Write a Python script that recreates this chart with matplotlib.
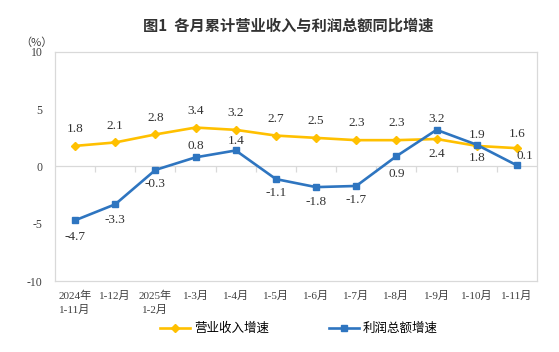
import numpy as np
import matplotlib.pyplot as plt

plt.rcParams['font.family'] = ['Liberation Serif', 'Noto Sans CJK SC']

# data
months = ['2024年\n1-11月', '1-12月', '2025年\n1-2月', '1-3月', '1-4月', '1-5月',
          '1-6月', '1-7月', '1-8月', '1-9月', '1-10月', '1-11月']
revenue = [1.8, 2.1, 2.8, 3.4, 3.2, 2.7, 2.5, 2.3, 2.3, 2.4, 1.8, 1.6]
profit = [-4.7, -3.3, -0.3, 0.8, 1.4, -1.1, -1.8, -1.7, 0.9, 3.2, 1.9, 0.1]
yticks = [-10, -5, 0, 5, 10]

# label offsets in points (dx, dy)
rev_off = [(0, 12)] * 9 + [(0, -11), (0, -9), (0, 10)]
pro_off = [(0, -12), (0, -11), (0, -10), (0, 8), (0, 7), (0, -10),
           (0, -11), (0, -10), (0, -13), (0, 8), (0, 7), (6, 7)]

YELLOW = '#FFC000'
BLUE = '#2E75C0'
GRAY = '#D9D9D9'

fig = plt.figure(figsize=(5.59, 3.52), dpi=100)
ax = fig.add_axes([0.0984, 0.2017, 0.8622, 0.6506])

x = np.arange(len(months))
ax.plot(x, revenue, color=YELLOW, lw=1.9, marker='D', ms=4, label='营业收入增速', zorder=3)
ax.plot(x, profit, color=BLUE, lw=1.9, marker='s', ms=4, label='利润总额增速', zorder=4)

for i, v in enumerate(revenue):
    ax.annotate(f'{v:.1f}', (i, v), xytext=rev_off[i], textcoords='offset points',
                ha='center', va='center', fontsize=9.5, color='#333333')
for i, v in enumerate(profit):
    ax.annotate(f'{v:.1f}', (i, v), xytext=pro_off[i], textcoords='offset points',
                ha='center', va='center', fontsize=9.5, color='#333333')

# zero line with boundary ticks
ax.axhline(0, color=GRAY, lw=0.9, zorder=1)
ax.vlines(np.arange(0.5, len(months) - 1), -0.45, 0, color=GRAY, lw=0.9, zorder=1)

ax.set_xlim(-0.5, len(months) - 0.5)
ax.set_ylim(-10, 10)
ax.set_yticks(yticks)
ax.set_yticklabels([str(t) for t in yticks])
ax.set_xticks(x)
ax.set_xticklabels(months, fontsize=8, color='#404040', linespacing=1.5)
ax.tick_params(axis='y', length=0, pad=9, labelsize=8.5, labelcolor='#404040')
ax.tick_params(axis='x', length=0, pad=7)
for s in ax.spines.values():
    s.set_color(GRAY)
    s.set_linewidth(0.9)

fig.text(0.515, 0.928, '图1  各月累计营业收入与利润总额同比增速', ha='center', va='center',
         fontsize=11, fontweight='bold', family=['Noto Sans CJK SC'], color='#333333')
fig.text(0.066, 0.878, '（%）', ha='center', va='center', fontsize=8,
         family=['Noto Sans CJK SC'], color='#404040')

fig.legend(loc='center', bbox_to_anchor=(0.535, 0.066), ncol=2, frameon=False,
           handlelength=2.4, columnspacing=4.8, handletextpad=0.3,
           prop={'family': ['Noto Sans CJK SC'], 'size': 9})

fig.savefig('out.png', dpi=100)
